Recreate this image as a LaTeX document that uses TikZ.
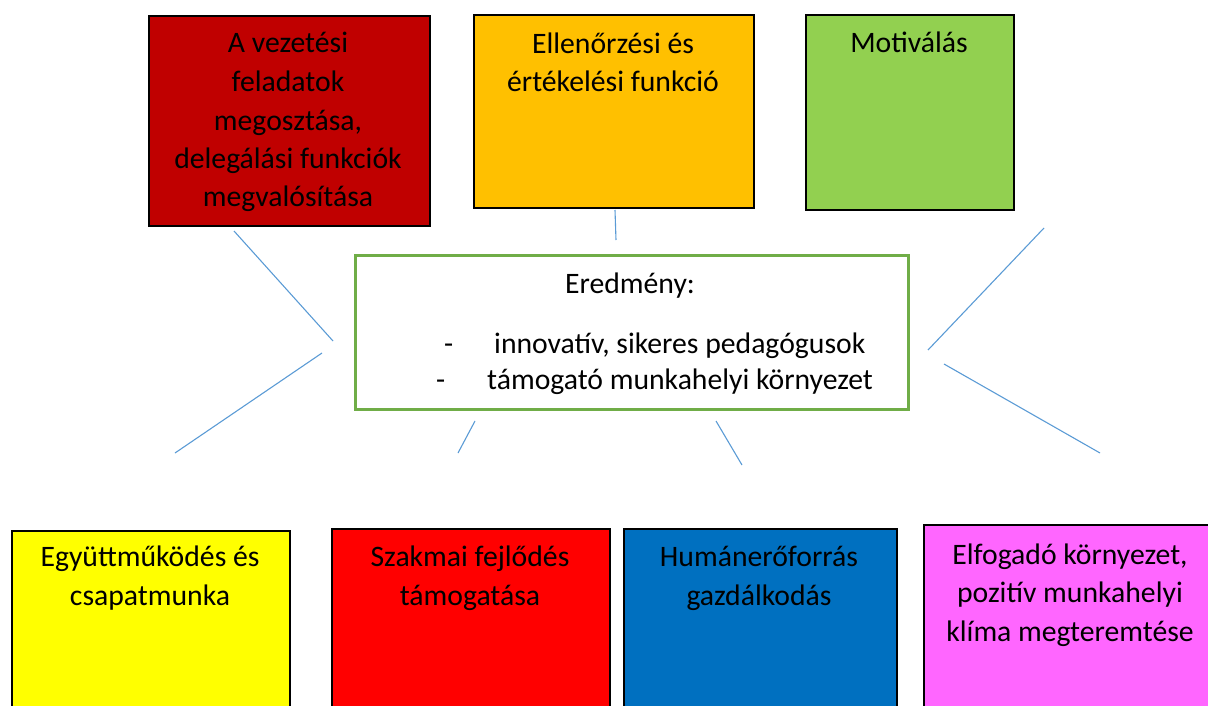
\documentclass[tikz,border=0pt]{standalone}
\usepackage{fontspec}
\setmainfont{Carlito}
\definecolor{darkred}{HTML}{C00000}
\definecolor{amber}{HTML}{FFC000}
\definecolor{leaf}{HTML}{92D050}
\definecolor{lemon}{HTML}{FFFF00}
\definecolor{brightred}{HTML}{FF0000}
\definecolor{ocean}{HTML}{0070C0}
\definecolor{pink}{HTML}{FF66FF}
\definecolor{frame}{HTML}{70AD47}
\definecolor{linkblue}{HTML}{5B9BD5}
\begin{document}
\begin{tikzpicture}[x=1pt,y=-1pt,
  box/.style={draw=black, line width=1.6pt, inner sep=0pt, anchor=north west},
  % anchor=base of a multi-line label is the baseline of its last line
  lbl/.style={font=\fontsize{29.7}{38.5}\selectfont, align=center, anchor=base, inner sep=0pt},
  item/.style={font=\fontsize{29.7}{38}\selectfont, anchor=base west, inner sep=0pt},
  link/.style={draw=linkblue, line width=1.1pt}]
\useasboundingbox (0,0) rectangle (1208,706);
\clip (0,0) rectangle (1208,706);

% upper row
\node[box, fill=darkred, minimum width=281pt, minimum height=210pt] (vez) at (148,15) {};
\node[lbl] (vezt) at (288,207) {A vezetési\\feladatok\\megosztása,\\delegálási funkciók\\megvalósítása};
\node[box, fill=amber, minimum width=280pt, minimum height=193pt] (ell) at (473,14) {};
\node[lbl] (ellt) at (613,92) {Ellenőrzési és\\értékelési funkció};
\node[box, fill=leaf, minimum width=208pt, minimum height=195pt] (mot) at (805,14) {};
\node[lbl] (mott) at (909,53) {Motiválás};

% central result box
\node[draw=frame, line width=3pt, inner sep=0pt, anchor=north west, fill=white,
      minimum width=553pt, minimum height=154pt] (res) at (354,254) {};
\node[lbl] (rest) at (630,293) {Eredmény:};
\node[item] (d1) at (444,353) {-};
\node[item] (i1) at (494,353) {innovatív, sikeres pedagógusok};
\node[item] (d2) at (436,389) {-};
\node[item] (i2) at (487,389) {támogató munkahelyi környezet};

% lower row
\node[box, fill=lemon, minimum width=278pt, minimum height=200pt] (egy) at (11,530) {};
\node[lbl] (egyt) at (150,605) {Együttműködés és\\csapatmunka};
\node[box, fill=brightred, minimum width=278pt, minimum height=200pt] (szak) at (331,528) {};
\node[lbl] (szakt) at (470,605) {Szakmai fejlődés\\támogatása};
\node[box, fill=ocean, minimum width=273pt, minimum height=200pt] (hum) at (623,528) {};
\node[lbl] (humt) at (759,605) {Humánerőforrás\\gazdálkodás};
\node[box, fill=pink, minimum width=294pt, minimum height=200pt] (elf) at (923,524) {};
\node[lbl] (elft) at (1070,641) {Elfogadó környezet,\\pozitív munkahelyi\\klíma megteremtése};

% connector ends
\coordinate (a1) at (234,231); \coordinate (a2) at (333,341);
\coordinate (b1) at (322,353); \coordinate (b2) at (175,453);
\coordinate (c1) at (615,210); \coordinate (c2) at (616,240);
\coordinate (e1) at (1044,228); \coordinate (e2) at (928,350);
\coordinate (f1) at (944,364); \coordinate (f2) at (1100,453);
\coordinate (g1) at (475,421); \coordinate (g2) at (458,453);
\coordinate (h1) at (716,421); \coordinate (h2) at (742,465);
\draw[link] (a1) -- (a2);
\draw[link] (b1) -- (b2);
\draw[link] (c1) -- (c2);
\draw[link] (e1) -- (e2);
\draw[link] (f1) -- (f2);
\draw[link] (g1) -- (g2);
\draw[link] (h1) -- (h2);
\end{tikzpicture}
\end{document}
